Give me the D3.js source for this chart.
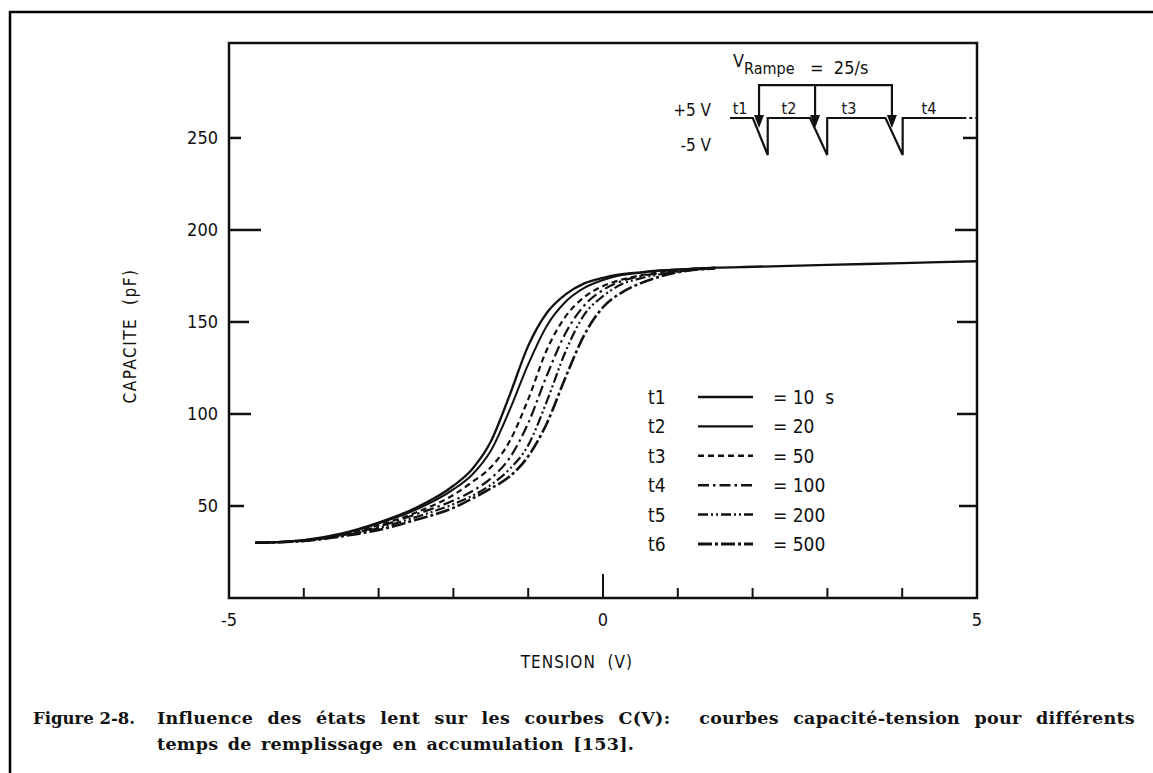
<!DOCTYPE html>
<html><head><meta charset="utf-8">
<script src="https://cdn.jsdelivr.net/npm/d3@7"></script>
<style>body{margin:0;background:#fff} svg{display:block}</style>
</head><body><svg id="c" width="1153" height="773"></svg>
<script>
// ---- data ----
const voltage = [-4.65,-4,-3.5,-3,-2.5,-2,-1.75,-1.5,-1.25,-1,-0.75,-0.5,-0.25,0,0.25,0.5,0.75,1,1.5,2,3,4,5];
const capT1 = [30,31.5,35,41,49,61,70,85,110,137,155,165,171,174,176,177,178,178.5,179.5,180,181,182,183];
const capT2 = [30,31.4,34.7,40.5,48,59,67,80,102,127,148,161,168.5,172.8,175.5,176.8,177.8,178.5,179.5];
const capT3 = [30,31.2,34.2,39.5,46.5,56,63,71,85,108,135,153,163.5,169.5,173,175.3,177,178.2,179.4];
const capT4 = [30,31.1,33.9,38.8,45.5,53,58,65,76,95,121,144,159,167.4,172.2,175,176.5,177.8,179.3];
const capT5 = [30,31,33.7,38,44,51,55.5,61.5,70,83,107,134,154,164,170.5,173.7,175.8,177.4,179.2];
const capT6 = [30,31,33.5,37,42.5,49,54,59.5,66,77,95,120,143,158,166,171,174.5,177,179.1];
const seriesNames = ["t1","t2","t3","t4","t5","t6"];
const seriesTimes = ["= 10  s","= 20","= 50","= 100","= 200","= 500"];
const yTickValues = [50,100,150,200,250];
const xTickValues = [-5,-4,-3,-2,-1,0,1,2,3,4,5];
const xTickLabels = ["-5","0","5"];
// inset waveform (time units, level in volts)
const waveT = [0,1.0,1.65,1.65,3.5,4.25,4.25,6.8,7.55,7.55,10.2];
const waveV = [5,5,-5,5,5,-5,5,5,-5,5,5];
const waveTailT = [10.2,10.8];
const arrowT = [1.27,3.72,7.08];
const pulseLabelT = [0.44,2.58,5.2,8.7];
const pulseLabels = ["t1","t2","t3","t4"];

// ---- styles ----
const dashes = [null,null,"6,4","11,4,2.5,4","10,3,2,3,2,3","14,3,3,3"];
const widths = [2.3,2.0,2.2,2.2,2.2,2.6];
const leftTickLen = [15,22,20,32,12];
const rightTickLen = [18,20,20,22,14];
const sans = "'DejaVu Sans Condensed','DejaVu Sans',sans-serif";

const svg = d3.select("#c");
const X0=229, X1=977, Y0=598, Y1=43;
const x = d3.scaleLinear().domain([-5,5]).range([X0,X1]);
const y = d3.scaleLinear().domain([0,301.6]).range([Y0,Y1]);

// outer figure border
svg.append("path").attr("d","M10,773 L10,12 L1153,12").attr("fill","none").attr("stroke","#000").attr("stroke-width",2.5);

// frame
svg.append("rect").attr("x",X0).attr("y",Y1).attr("width",X1-X0).attr("height",Y0-Y1)
  .attr("fill","none").attr("stroke","#111").attr("stroke-width",2.5);

// y ticks
yTickValues.forEach((v,i)=>{
  svg.append("line").attr("x1",X0).attr("x2",X0+leftTickLen[i]).attr("y1",y(v)).attr("y2",y(v)).attr("stroke","#111").attr("stroke-width",2.5);
  svg.append("line").attr("x1",X1).attr("x2",X1-rightTickLen[i]).attr("y1",y(v)).attr("y2",y(v)).attr("stroke","#111").attr("stroke-width",2.5);
  svg.append("text").attr("x",X0-11).attr("y",y(v)+6).attr("text-anchor","end")
    .attr("font-family",sans).attr("font-size",18).attr("fill","#111").text(v);
});
// x ticks
xTickValues.forEach(v=>{
  if (v===-5||v===5) return;
  const len = v===0?24:10;
  svg.append("line").attr("x1",x(v)).attr("x2",x(v)).attr("y1",Y0).attr("y2",Y0-len).attr("stroke","#111").attr("stroke-width",2);
});
xTickLabels.forEach(s=>{
  svg.append("text").attr("x",x(+s)).attr("y",Y0+28).attr("text-anchor","middle")
    .attr("font-family",sans).attr("font-size",18).attr("fill","#111").text(s);
});
svg.append("text").attr("x",x(-0.35)).attr("y",668).attr("text-anchor","middle")
  .attr("font-family",sans).attr("font-size",17).attr("letter-spacing",1).attr("fill","#111")
  .attr("xml:space","preserve").style("white-space","pre").text("TENSION  (V)");
svg.append("text").attr("transform","translate(136,336) rotate(-90)").attr("text-anchor","middle")
  .attr("font-family",sans).attr("font-size",17).attr("letter-spacing",1.5).attr("fill","#111")
  .attr("xml:space","preserve").style("white-space","pre").text("CAPACITE  (pF)");

// curves
const allCaps = [capT1,capT2,capT3,capT4,capT5,capT6];
const line = d3.line().x(d=>x(d[0])).y(d=>y(d[1])).curve(d3.curveMonotoneX);
allCaps.slice().reverse().forEach((caps,ri)=>{
  const i = allCaps.length-1-ri;
  const pts = caps.map((c,k)=>[voltage[k],c]);
  const p = svg.append("path").attr("d",line(pts)).attr("fill","none").attr("stroke","#111")
    .attr("stroke-width",widths[i]).attr("stroke-linecap","butt");
  if (dashes[i]) p.attr("stroke-dasharray",dashes[i]);
});

// legend
const legY = d3.scaleLinear().domain([0,5]).range([397,544]);
seriesNames.forEach((n,i)=>{
  const yy = legY(i);
  svg.append("text").attr("x",648).attr("y",yy+7).attr("font-family",sans).attr("font-size",19).attr("fill","#111").text(n);
  const l = svg.append("line").attr("x1",698).attr("x2",753).attr("y1",yy).attr("y2",yy).attr("stroke","#111").attr("stroke-width",widths[i]+0.3);
  if (dashes[i]) l.attr("stroke-dasharray",dashes[i]);
  svg.append("text").attr("x",773).attr("y",yy+7).attr("font-family",sans).attr("font-size",19).attr("fill","#111")
    .attr("xml:space","preserve").style("white-space","pre").text(seriesTimes[i]);
});

// inset
const ix = d3.scaleLinear().domain([0,10.8]).range([730,977]);
const iy = d3.scaleLinear().domain([-5,5]).range([155,118]);
const wl = d3.line().x(d=>ix(d[0])).y(d=>iy(d[1]));
svg.append("path").attr("d",wl(waveT.map((t,k)=>[t,waveV[k]]))).attr("fill","none").attr("stroke","#111").attr("stroke-width",2.2);
svg.append("path").attr("d",wl(waveTailT.map(t=>[t,5]))).attr("fill","none").attr("stroke","#111").attr("stroke-width",2).attr("stroke-dasharray","3,3");
const bracketLevel = 13.9, tipLevel = 2.3;
svg.append("path").attr("d",wl([[arrowT[0],tipLevel+2],[arrowT[0],bracketLevel],[arrowT[2],bracketLevel],[arrowT[2],tipLevel+2]]))
  .attr("fill","none").attr("stroke","#111").attr("stroke-width",2.2);
svg.append("path").attr("d",wl([[arrowT[1],bracketLevel],[arrowT[1],tipLevel+2]])).attr("fill","none").attr("stroke","#111").attr("stroke-width",2.2);
arrowT.forEach(t=>{
  const cx = ix(t), ty = iy(tipLevel);
  svg.append("path").attr("d",`M${cx-5},${ty-13} L${cx+5},${ty-13} L${cx},${ty} Z`).attr("fill","#111");
});
pulseLabelT.forEach((t,k)=>{
  svg.append("text").attr("x",ix(t)).attr("y",114).attr("text-anchor","middle").attr("font-family",sans).attr("font-size",16).attr("fill","#111").text(pulseLabels[k]);
});
svg.append("text").attr("x",711).attr("y",116).attr("text-anchor","end").attr("font-family",sans).attr("font-size",17).attr("fill","#111").text("+5 V");
svg.append("text").attr("x",711).attr("y",151).attr("text-anchor","end").attr("font-family",sans).attr("font-size",17).attr("fill","#111").text("-5 V");
const vt = svg.append("text").attr("x",733).attr("y",67).attr("font-family",sans).attr("fill","#111");
vt.append("tspan").attr("font-size",18).text("V");
vt.append("tspan").attr("font-size",16).attr("dy",7).text("Rampe");
svg.append("text").attr("x",810).attr("y",74).attr("font-family",sans).attr("font-size",18).attr("fill","#111").attr("xml:space","preserve").style("white-space","pre").text("=  25/s");

// caption
const serif = "'DejaVu Serif','Liberation Serif',serif";
svg.append("text").attr("x",33).attr("y",724).attr("font-family",serif).attr("font-weight","bold").attr("font-size",16.5).attr("fill","#111").text("Figure 2-8.");
const cap1 = svg.append("text").attr("x",157).attr("y",724).attr("font-family",serif).attr("font-weight","bold").attr("font-size",17.5).attr("fill","#111")
  .attr("letter-spacing",0.3)
  .attr("xml:space","preserve").style("white-space","pre")
  .text("Influence des états lent sur les courbes C(V):  courbes capacité-tension pour différents");
const natural = cap1.node().getComputedTextLength();
const nSpaces = (cap1.text().match(/ /g)||[]).length;
cap1.attr("word-spacing", Math.max(0,(978-natural)/nSpaces));
svg.append("text").attr("x",157).attr("y",750).attr("font-family",serif).attr("font-weight","bold").attr("font-size",17.5).attr("fill","#111")
  .attr("letter-spacing",0.3).attr("word-spacing",3)
  .text("temps de remplissage en accumulation [153].");
</script></body></html>
